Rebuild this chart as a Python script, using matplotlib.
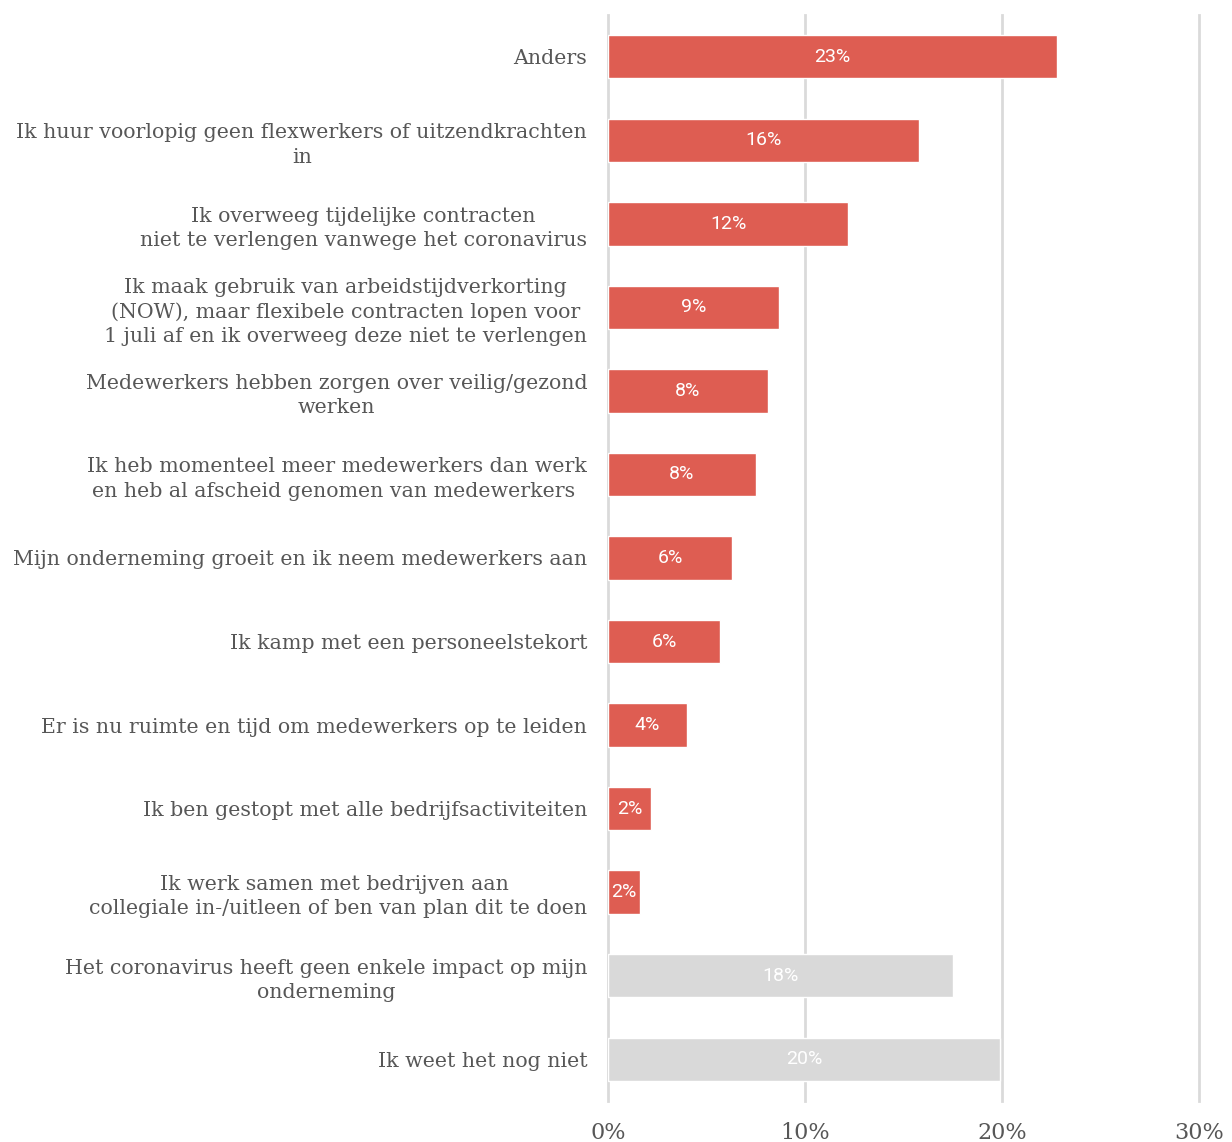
import matplotlib
matplotlib.use("Agg")
import matplotlib.pyplot as plt

# ── Data ──────────────────────────────────────────────────────────────────────
labels = [
    "Anders",
    "Ik huur voorlopig geen flexwerkers of uitzendkrachten\nin",
    "Ik overweeg tijdelijke contracten\nniet te verlengen vanwege het coronavirus",
    "Ik maak gebruik van arbeidstijdverkorting\n(NOW), maar flexibele contracten lopen voor\n1 juli af en ik overweeg deze niet te verlengen",
    "Medewerkers hebben zorgen over veilig/gezond\nwerken",
    "Ik heb momenteel meer medewerkers dan werk\nen heb al afscheid genomen van medewerkers ",
    "Mijn onderneming groeit en ik neem medewerkers aan",
    "Ik kamp met een personeelstekort",
    "Er is nu ruimte en tijd om medewerkers op te leiden",
    "Ik ben gestopt met alle bedrijfsactiviteiten",
    "Ik werk samen met bedrijven aan \ncollegiale in-/uitleen of ben van plan dit te doen",
    "Het coronavirus heeft geen enkele impact op mijn\nonderneming",
    "Ik weet het nog niet",
]
values = [22.8, 15.8, 12.2, 8.7, 8.1, 7.5, 6.3, 5.7, 4.0, 2.2, 1.6, 17.5, 19.9]
value_labels = ["23%", "16%", "12%", "9%", "8%", "8%", "6%", "6%", "4%", "2%", "2%", "18%", "20%"]
highlight = [True] * 11 + [False] * 2
x_ticks = [0, 10, 20, 30]
x_ticklabels = ["0%", "10%", "20%", "30%"]

RED = "#DE5D52"
GREY = "#D9D9D9"
TEXT = "#575757"

fig = plt.figure(figsize=(12.32, 11.42), dpi=100)
ax = fig.add_axes([0.4935, 0.0359, 0.4797, 0.951])

ypos = list(range(len(labels)))
colors = [RED if h else GREY for h in highlight]
bars = ax.barh(ypos, values, height=0.52, color=colors, edgecolor="white",
               linewidth=1.0, zorder=3)

for b, txt in zip(bars, value_labels):
    ax.text(b.get_x() + b.get_width() / 2, b.get_y() + b.get_height() / 2, txt,
            ha="center", va="center", fontsize=14, family="Roboto",
            color="white", zorder=4)

ax.set_ylim(len(labels) - 0.5, -0.5)
ax.set_xlim(0, 30)
ax.set_yticks(ypos)
ax.set_yticklabels(labels, family="DejaVu Serif", fontsize=14.8, color=TEXT,
                   linespacing=1.35)
for lbl in ax.get_yticklabels():
    lbl.set_multialignment("center")
ax.set_xticks(x_ticks)
ax.set_xticklabels(x_ticklabels, family="DejaVu Serif", fontsize=16, color=TEXT)

ax.tick_params(axis="y", length=0, pad=15)
ax.tick_params(axis="x", length=0, pad=15)
ax.grid(axis="x", color="#DADADA", linewidth=2, zorder=0)
for gl in ax.get_xgridlines():
    gl.set_clip_on(False)
ax.set_axisbelow(True)
for s in ax.spines.values():
    s.set_visible(False)

fig.savefig("out.png", dpi=100, facecolor="white")
